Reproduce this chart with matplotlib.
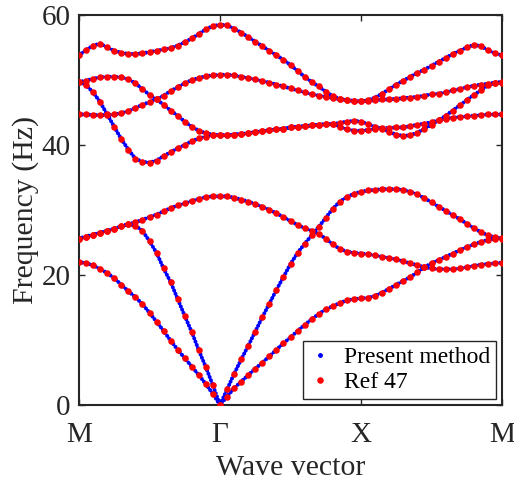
import numpy as np
import matplotlib
matplotlib.use('Agg')
import matplotlib.pyplot as plt
from matplotlib.lines import Line2D

plt.rcParams['font.family'] = ['Liberation Serif', 'DejaVu Serif']

# wave vector path M -> Gamma -> X -> M, 20 steps per segment
k = np.linspace(0, 3, 61)
k_ticks = [0, 1, 2, 3]
k_labels = ['M', 'Γ', 'X', 'M']

# dispersion branches (Hz)
band_a = [53.8, 54.6, 55.3, 55.6, 55.0, 54.5, 54.2, 54.0, 54.0, 54.1, 54.3, 54.5, 54.7, 54.9, 55.3, 55.8, 56.4, 57.1, 57.8, 58.3, 58.5,
          58.4, 57.9, 57.3, 56.6, 55.9, 55.2, 54.5, 53.8, 53.1, 52.3, 51.4, 50.5, 49.7, 49.0, 48.2, 47.5, 47.1, 46.9, 46.7, 46.7,
          46.9, 47.3, 47.9, 48.6, 49.3, 49.9, 50.5, 51.1, 51.6, 52.2, 52.8, 53.4, 54.0, 54.5, 55.0, 55.4, 55.2, 54.6, 54.1, 53.8]
band_b = [49.7, 49.9, 50.2, 50.4, 50.5, 50.5, 50.4, 50.1, 49.5, 48.6, 47.7, 47.0, 46.2, 45.3, 44.5, 43.6, 42.8, 42.2, 41.8, 41.6, 41.5,
          41.5, 41.6, 41.7, 41.8, 42.0, 42.1, 42.3, 42.4, 42.5, 42.7, 42.8, 42.9, 43.0, 43.1, 43.2, 43.2, 43.4, 43.6, 43.7, 43.6,
          43.2, 42.8, 42.5, 42.0, 41.6, 41.4, 41.5, 41.9, 42.5, 43.1, 43.8, 44.5, 45.3, 46.1, 46.9, 47.7, 48.4, 49.2, 49.5, 49.6]
band_c = [44.7, 44.7, 44.6, 44.6, 44.6, 44.7, 44.9, 45.2, 45.7, 46.2, 46.6, 47.0, 47.6, 48.3, 48.9, 49.5, 50.0, 50.3, 50.6, 50.7, 50.8,
          50.8, 50.7, 50.5, 50.3, 50.1, 49.8, 49.6, 49.3, 49.0, 48.7, 48.4, 48.1, 47.8, 47.6, 47.4, 47.2, 47.0, 46.9, 46.8, 46.7,
          46.8, 46.9, 47.0, 47.0, 47.1, 47.2, 47.3, 47.4, 47.6, 47.8, 47.9, 48.1, 48.4, 48.6, 48.9, 49.1, 49.3, 49.4, 49.6, 49.7]
band_d = [49.7, 49.2, 48.1, 46.6, 44.7, 42.8, 40.9, 39.3, 37.9, 37.4, 37.3, 37.6, 38.3, 38.9, 39.5, 40.0, 40.6, 41.0, 41.3, 41.5, 41.5,
          41.5, 41.6, 41.7, 41.8, 42.0, 42.1, 42.3, 42.4, 42.5, 42.7, 42.8, 42.9, 43.0, 43.1, 43.2, 43.2, 42.8, 42.4, 42.2, 42.2,
          42.3, 42.5, 42.6, 42.6, 42.7, 42.7, 42.9, 43.1, 43.3, 43.5, 43.8, 44.0, 44.2, 44.3, 44.4, 44.5, 44.6, 44.7, 44.7, 44.7]
band_e = [25.6, 25.9, 26.2, 26.5, 26.8, 27.1, 27.5, 27.8, 27.6, 26.8, 25.2, 23.4, 21.0, 18.9, 16.3, 13.7, 11.2, 8.4, 5.8, 3.0, 0.0,
          2.4, 4.8, 7.0, 9.1, 11.3, 13.5, 15.6, 17.7, 19.7, 21.7, 23.4, 24.8, 26.1, 27.4, 28.8, 30.2, 31.3, 32.0, 32.5, 32.8,
          33.0, 33.1, 33.2, 33.2, 33.2, 33.1, 32.8, 32.4, 31.8, 31.2, 30.5, 29.9, 29.2, 28.6, 27.9, 27.2, 26.6, 26.1, 25.8, 25.6]
band_f = [25.6, 25.9, 26.2, 26.5, 26.8, 27.1, 27.5, 27.8, 28.1, 28.5, 28.9, 29.3, 29.8, 30.3, 30.7, 31.0, 31.4, 31.7, 32.0, 32.1, 32.1,
          32.1, 31.9, 31.6, 31.3, 30.9, 30.5, 30.0, 29.5, 28.9, 28.3, 27.7, 27.2, 26.8, 26.3, 25.6, 24.7, 24.0, 23.6, 23.4, 23.3,
          23.2, 23.0, 22.8, 22.6, 22.4, 22.1, 21.8, 21.5, 21.2, 21.0, 20.9, 20.9, 20.9, 21.0, 21.2, 21.4, 21.6, 21.7, 21.8, 21.9]
band_g = [22.0, 21.8, 21.5, 20.9, 20.3, 19.5, 18.5, 17.5, 16.6, 15.5, 14.2, 12.8, 11.4, 9.9, 8.5, 7.2, 5.9, 4.6, 3.2, 1.7, 0.0,
          1.3, 2.6, 3.6, 4.6, 5.6, 6.5, 7.5, 8.5, 9.5, 10.4, 11.4, 12.3, 13.2, 14.0, 14.7, 15.2, 15.7, 16.1, 16.3, 16.4,
          16.5, 16.8, 17.3, 17.9, 18.5, 19.1, 19.7, 20.4, 21.2, 21.8, 22.3, 22.8, 23.3, 23.8, 24.3, 24.7, 25.1, 25.4, 25.6, 25.7]
bands = [band_a, band_b, band_c, band_d, band_e, band_f, band_g]

dark = '#262626'

fig = plt.figure(figsize=(5.14, 4.83), dpi=100)
ax = fig.add_axes([0.1537, 0.1615, 0.823, 0.8075])

# present method: dense blue dots along each branch
for f in bands:
    ax.plot(k, f, color='blue', lw=2.9, ls=(0, (0.01, 0.85)),
            dash_capstyle='round', zorder=2)
# reference results: red dots
for f in bands:
    ax.plot(k, f, 'o', color='red', ms=4.7, mec='none', zorder=3)

ax.set_xlim(0, 3)
ax.set_ylim(0, 60)
ax.set_xticks(k_ticks, k_labels)
ax.set_yticks([0, 20, 40, 60])
ax.tick_params(direction='in', top=True, right=True, length=4, width=1,
               labelsize=21, colors=dark)
ax.tick_params(axis='x', pad=12)
ax.tick_params(axis='y', pad=6)
for s in ax.spines.values():
    s.set_linewidth(1.5)
    s.set_color(dark)

ax.set_xlabel('Wave vector', fontsize=21.5, color=dark, labelpad=5)
ax.set_ylabel('Frequency (Hz)', fontsize=21.5, color=dark, labelpad=2)

handles = [Line2D([], [], ls='none', marker='o', ms=2.5, color='blue'),
           Line2D([], [], ls='none', marker='o', ms=4.7, color='red', mec='none')]
leg = ax.legend(handles, ['Present method', 'Ref 47'], loc='lower right',
                fontsize=17, fancybox=False, edgecolor=dark, framealpha=1,
                handlelength=1.0, handletextpad=0.5, borderpad=0.25,
                labelspacing=0.15, borderaxespad=0.25)
leg.get_frame().set_linewidth(1.0)

fig.savefig('out.png', dpi=100)
